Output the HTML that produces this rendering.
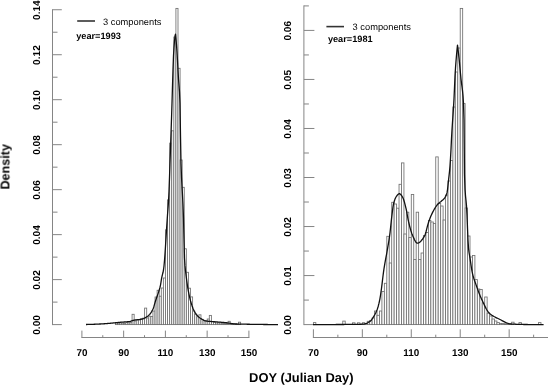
<!DOCTYPE html>
<html><head><meta charset="utf-8"><style>
html,body{margin:0;padding:0;background:#fff;overflow:hidden;width:548px;height:385px;}
svg{display:block;font-family:"Liberation Sans",sans-serif;}
text{text-rendering:geometricPrecision;}
</style></head><body>
<svg width="548" height="385" viewBox="0 0 548 385">
<rect width="548" height="385" fill="#fff"/>
<g fill="#fff" stroke="#707070" stroke-width="0.85">
<rect x="115.38" y="323.00" width="2.09" height="1.60"/>
<rect x="117.46" y="323.20" width="2.09" height="1.40"/>
<rect x="119.55" y="323.00" width="2.09" height="1.60"/>
<rect x="121.64" y="323.20" width="2.09" height="1.40"/>
<rect x="123.72" y="323.60" width="2.09" height="1.00"/>
<rect x="125.81" y="322.60" width="2.09" height="2.00"/>
<rect x="127.90" y="322.80" width="2.09" height="1.80"/>
<rect x="129.99" y="322.60" width="2.09" height="2.00"/>
<rect x="132.07" y="314.30" width="2.09" height="10.30"/>
<rect x="134.16" y="321.00" width="2.09" height="3.60"/>
<rect x="136.25" y="319.70" width="2.09" height="4.90"/>
<rect x="138.34" y="319.70" width="2.09" height="4.90"/>
<rect x="140.42" y="318.80" width="2.09" height="5.80"/>
<rect x="142.51" y="318.20" width="2.09" height="6.40"/>
<rect x="144.60" y="308.10" width="2.09" height="16.50"/>
<rect x="146.69" y="318.00" width="2.09" height="6.60"/>
<rect x="148.77" y="316.20" width="2.09" height="8.40"/>
<rect x="150.86" y="316.50" width="2.09" height="8.10"/>
<rect x="152.95" y="311.00" width="2.09" height="13.60"/>
<rect x="155.04" y="297.00" width="2.09" height="27.60"/>
<rect x="157.12" y="290.30" width="2.09" height="34.30"/>
<rect x="159.21" y="296.20" width="2.09" height="28.40"/>
<rect x="161.30" y="288.00" width="2.09" height="36.60"/>
<rect x="163.39" y="278.00" width="2.09" height="46.60"/>
<rect x="165.47" y="229.84" width="2.09" height="94.76"/>
<rect x="167.56" y="199.89" width="2.09" height="124.71"/>
<rect x="169.65" y="143.12" width="2.09" height="181.48"/>
<rect x="171.74" y="130.80" width="2.09" height="193.80"/>
<rect x="173.82" y="37.05" width="2.09" height="287.55"/>
<rect x="175.91" y="8.40" width="2.09" height="316.20"/>
<rect x="178.00" y="68.30" width="2.09" height="256.30"/>
<rect x="180.09" y="160.00" width="2.09" height="164.60"/>
<rect x="182.17" y="187.30" width="2.09" height="137.30"/>
<rect x="184.26" y="248.80" width="2.09" height="75.80"/>
<rect x="186.35" y="272.30" width="2.09" height="52.30"/>
<rect x="188.44" y="288.20" width="2.09" height="36.40"/>
<rect x="190.52" y="296.90" width="2.09" height="27.70"/>
<rect x="192.61" y="311.00" width="2.09" height="13.60"/>
<rect x="194.70" y="314.30" width="2.09" height="10.30"/>
<rect x="196.79" y="316.80" width="2.09" height="7.80"/>
<rect x="198.88" y="314.80" width="2.09" height="9.80"/>
<rect x="200.96" y="319.30" width="2.09" height="5.30"/>
<rect x="203.05" y="320.40" width="2.09" height="4.20"/>
<rect x="205.14" y="320.80" width="2.09" height="3.80"/>
<rect x="207.22" y="319.00" width="2.09" height="5.60"/>
<rect x="209.31" y="315.40" width="2.09" height="9.20"/>
<rect x="211.40" y="321.50" width="2.09" height="3.10"/>
<rect x="213.49" y="322.00" width="2.09" height="2.60"/>
<rect x="215.57" y="323.00" width="2.09" height="1.60"/>
<rect x="217.66" y="323.00" width="2.09" height="1.60"/>
<rect x="219.75" y="323.00" width="2.09" height="1.60"/>
<rect x="221.84" y="323.60" width="2.09" height="1.00"/>
<rect x="223.92" y="323.60" width="2.09" height="1.00"/>
<rect x="226.01" y="323.60" width="2.09" height="1.00"/>
<rect x="228.10" y="321.30" width="2.09" height="3.30"/>
<rect x="230.19" y="323.80" width="2.09" height="0.80"/>
<rect x="232.27" y="323.80" width="2.09" height="0.80"/>
<rect x="234.36" y="324.00" width="2.09" height="0.60"/>
<rect x="236.45" y="324.00" width="2.09" height="0.60"/>
<rect x="238.54" y="322.20" width="2.09" height="2.40"/>
<rect x="313.40" y="322.60" width="2.45" height="2.00"/>
<rect x="342.76" y="321.10" width="2.45" height="3.50"/>
<rect x="352.55" y="322.80" width="2.45" height="1.80"/>
<rect x="357.45" y="322.80" width="2.45" height="1.80"/>
<rect x="362.34" y="322.70" width="2.45" height="1.90"/>
<rect x="364.79" y="323.60" width="2.45" height="1.00"/>
<rect x="367.23" y="321.30" width="2.45" height="3.30"/>
<rect x="369.68" y="320.40" width="2.45" height="4.20"/>
<rect x="372.13" y="318.00" width="2.45" height="6.60"/>
<rect x="374.57" y="311.00" width="2.45" height="13.60"/>
<rect x="377.02" y="315.30" width="2.45" height="9.30"/>
<rect x="379.47" y="311.00" width="2.45" height="13.60"/>
<rect x="381.92" y="291.50" width="2.45" height="33.10"/>
<rect x="384.36" y="283.30" width="2.45" height="41.30"/>
<rect x="386.81" y="236.30" width="2.45" height="88.30"/>
<rect x="389.26" y="263.00" width="2.45" height="61.60"/>
<rect x="391.70" y="202.30" width="2.45" height="122.30"/>
<rect x="394.15" y="204.00" width="2.45" height="120.60"/>
<rect x="396.60" y="208.20" width="2.45" height="116.40"/>
<rect x="399.04" y="184.30" width="2.45" height="140.30"/>
<rect x="401.49" y="162.90" width="2.45" height="161.70"/>
<rect x="403.94" y="234.00" width="2.45" height="90.60"/>
<rect x="406.39" y="212.20" width="2.45" height="112.40"/>
<rect x="408.83" y="237.50" width="2.45" height="87.10"/>
<rect x="411.28" y="194.50" width="2.45" height="130.10"/>
<rect x="413.73" y="259.50" width="2.45" height="65.10"/>
<rect x="416.17" y="212.20" width="2.45" height="112.40"/>
<rect x="418.62" y="259.50" width="2.45" height="65.10"/>
<rect x="421.07" y="253.00" width="2.45" height="71.60"/>
<rect x="423.51" y="235.50" width="2.45" height="89.10"/>
<rect x="425.96" y="232.50" width="2.45" height="92.10"/>
<rect x="428.41" y="220.50" width="2.45" height="104.10"/>
<rect x="430.86" y="222.00" width="2.45" height="102.60"/>
<rect x="433.30" y="223.50" width="2.45" height="101.10"/>
<rect x="435.75" y="156.90" width="2.45" height="167.70"/>
<rect x="438.20" y="203.50" width="2.45" height="121.10"/>
<rect x="440.64" y="206.00" width="2.45" height="118.60"/>
<rect x="443.09" y="220.00" width="2.45" height="104.60"/>
<rect x="445.54" y="195.00" width="2.45" height="129.60"/>
<rect x="447.99" y="181.00" width="2.45" height="143.60"/>
<rect x="450.43" y="160.50" width="2.45" height="164.10"/>
<rect x="452.88" y="107.00" width="2.45" height="217.60"/>
<rect x="455.33" y="72.00" width="2.45" height="252.60"/>
<rect x="457.77" y="48.00" width="2.45" height="276.60"/>
<rect x="460.22" y="8.40" width="2.45" height="316.20"/>
<rect x="462.67" y="103.60" width="2.45" height="221.00"/>
<rect x="465.11" y="208.00" width="2.45" height="116.60"/>
<rect x="467.56" y="236.00" width="2.45" height="88.60"/>
<rect x="470.01" y="257.00" width="2.45" height="67.60"/>
<rect x="472.45" y="255.50" width="2.45" height="69.10"/>
<rect x="474.90" y="279.60" width="2.45" height="45.00"/>
<rect x="477.35" y="289.00" width="2.45" height="35.60"/>
<rect x="479.80" y="289.50" width="2.45" height="35.10"/>
<rect x="482.24" y="303.00" width="2.45" height="21.60"/>
<rect x="484.69" y="297.00" width="2.45" height="27.60"/>
<rect x="487.14" y="313.20" width="2.45" height="11.40"/>
<rect x="489.58" y="316.00" width="2.45" height="8.60"/>
<rect x="492.03" y="319.00" width="2.45" height="5.60"/>
<rect x="494.48" y="321.00" width="2.45" height="3.60"/>
<rect x="496.92" y="322.60" width="2.45" height="2.00"/>
<rect x="499.37" y="323.40" width="2.45" height="1.20"/>
<rect x="501.82" y="323.60" width="2.45" height="1.00"/>
<rect x="504.27" y="323.80" width="2.45" height="0.80"/>
<rect x="506.71" y="324.00" width="2.45" height="0.60"/>
<rect x="509.16" y="324.00" width="2.45" height="0.60"/>
<rect x="511.61" y="322.20" width="2.45" height="2.40"/>
<rect x="518.95" y="322.60" width="2.45" height="2.00"/>
<rect x="538.52" y="322.60" width="2.45" height="2.00"/>
</g>
<g stroke="#858585" stroke-width="1" fill="none">
<line x1="52.5" y1="9.24" x2="52.5" y2="325.10"/>
<line x1="52.5" y1="324.60" x2="61.8" y2="324.60"/>
<line x1="52.5" y1="279.62" x2="61.8" y2="279.62"/>
<line x1="52.5" y1="234.64" x2="61.8" y2="234.64"/>
<line x1="52.5" y1="189.66" x2="61.8" y2="189.66"/>
<line x1="52.5" y1="144.68" x2="61.8" y2="144.68"/>
<line x1="52.5" y1="99.70" x2="61.8" y2="99.70"/>
<line x1="52.5" y1="54.72" x2="61.8" y2="54.72"/>
<line x1="52.5" y1="9.74" x2="61.8" y2="9.74"/>
<line x1="52.5" y1="302.11" x2="57.5" y2="302.11"/>
<line x1="52.5" y1="257.13" x2="57.5" y2="257.13"/>
<line x1="52.5" y1="212.15" x2="57.5" y2="212.15"/>
<line x1="52.5" y1="167.17" x2="57.5" y2="167.17"/>
<line x1="52.5" y1="122.19" x2="57.5" y2="122.19"/>
<line x1="52.5" y1="77.21" x2="57.5" y2="77.21"/>
<line x1="52.5" y1="32.23" x2="57.5" y2="32.23"/>
<line x1="303.9" y1="5.41" x2="303.9" y2="325.10"/>
<line x1="303.9" y1="324.60" x2="314.4" y2="324.60"/>
<line x1="303.9" y1="275.57" x2="314.4" y2="275.57"/>
<line x1="303.9" y1="226.54" x2="314.4" y2="226.54"/>
<line x1="303.9" y1="177.51" x2="314.4" y2="177.51"/>
<line x1="303.9" y1="128.48" x2="314.4" y2="128.48"/>
<line x1="303.9" y1="79.45" x2="314.4" y2="79.45"/>
<line x1="303.9" y1="30.42" x2="314.4" y2="30.42"/>
<line x1="303.9" y1="300.09" x2="308.9" y2="300.09"/>
<line x1="303.9" y1="251.06" x2="308.9" y2="251.06"/>
<line x1="303.9" y1="202.03" x2="308.9" y2="202.03"/>
<line x1="303.9" y1="153.00" x2="308.9" y2="153.00"/>
<line x1="303.9" y1="103.97" x2="308.9" y2="103.97"/>
<line x1="303.9" y1="54.94" x2="308.9" y2="54.94"/>
<line x1="303.9" y1="5.91" x2="308.9" y2="5.91"/>
<line x1="81.40" y1="337.5" x2="249.40" y2="337.5"/>
<line x1="81.90" y1="337.5" x2="81.90" y2="330.6"/>
<line x1="123.65" y1="337.5" x2="123.65" y2="330.6"/>
<line x1="165.40" y1="337.5" x2="165.40" y2="330.6"/>
<line x1="207.15" y1="337.5" x2="207.15" y2="330.6"/>
<line x1="248.90" y1="337.5" x2="248.90" y2="330.6"/>
<line x1="102.78" y1="337.5" x2="102.78" y2="335.2"/>
<line x1="144.53" y1="337.5" x2="144.53" y2="335.2"/>
<line x1="186.28" y1="337.5" x2="186.28" y2="335.2"/>
<line x1="228.03" y1="337.5" x2="228.03" y2="335.2"/>
<line x1="312.90" y1="337.5" x2="548.81" y2="337.5"/>
<line x1="313.40" y1="337.5" x2="313.40" y2="329.3"/>
<line x1="362.34" y1="337.5" x2="362.34" y2="329.3"/>
<line x1="411.28" y1="337.5" x2="411.28" y2="329.3"/>
<line x1="460.22" y1="337.5" x2="460.22" y2="329.3"/>
<line x1="509.16" y1="337.5" x2="509.16" y2="329.3"/>
<line x1="337.87" y1="337.5" x2="337.87" y2="334.7"/>
<line x1="386.81" y1="337.5" x2="386.81" y2="334.7"/>
<line x1="435.75" y1="337.5" x2="435.75" y2="334.7"/>
<line x1="484.69" y1="337.5" x2="484.69" y2="334.7"/>
<line x1="533.63" y1="337.5" x2="533.63" y2="334.7"/>
</g>
<g fill="none" stroke="#111" stroke-width="1.3" stroke-linejoin="round">
<path d="M86.00,324.50 L86.50,324.49 L87.00,324.48 L87.50,324.47 L88.00,324.46 L88.50,324.45 L89.00,324.44 L89.50,324.42 L90.00,324.41 L90.50,324.39 L91.00,324.38 L91.50,324.36 L92.00,324.34 L92.50,324.33 L93.00,324.31 L93.50,324.29 L94.00,324.27 L94.50,324.25 L95.00,324.23 L95.50,324.21 L96.00,324.18 L96.50,324.16 L97.00,324.14 L97.50,324.12 L98.00,324.09 L98.50,324.07 L99.00,324.05 L99.50,324.02 L100.00,324.00 L100.50,323.98 L101.00,323.95 L101.50,323.92 L102.00,323.89 L102.50,323.86 L103.00,323.83 L103.50,323.80 L104.00,323.76 L104.50,323.73 L105.00,323.69 L105.50,323.66 L106.00,323.62 L106.50,323.58 L107.00,323.54 L107.50,323.50 L108.00,323.46 L108.50,323.42 L109.00,323.38 L109.50,323.34 L110.00,323.30 L110.50,323.26 L111.00,323.21 L111.50,323.17 L112.00,323.12 L112.50,323.07 L113.00,323.02 L113.50,322.97 L114.00,322.91 L114.50,322.86 L115.00,322.81 L115.50,322.75 L116.00,322.70 L116.50,322.65 L117.00,322.59 L117.50,322.54 L118.00,322.49 L118.50,322.44 L119.00,322.39 L119.50,322.34 L120.00,322.30 L120.50,322.26 L121.00,322.22 L121.50,322.18 L122.00,322.15 L122.50,322.12 L123.00,322.09 L123.50,322.05 L124.00,322.02 L124.50,321.99 L125.00,321.96 L125.50,321.93 L126.00,321.89 L126.50,321.85 L127.00,321.81 L127.50,321.76 L128.00,321.71 L128.50,321.66 L129.00,321.60 L129.50,321.52 L130.00,321.41 L130.50,321.28 L131.00,321.14 L131.50,320.98 L132.00,320.81 L132.50,320.65 L133.00,320.49 L133.50,320.34 L134.00,320.20 L134.50,320.09 L135.00,320.00 L135.50,319.93 L136.00,319.88 L136.50,319.83 L137.00,319.79 L137.50,319.75 L138.00,319.71 L138.50,319.67 L139.00,319.62 L139.50,319.57 L140.00,319.50 L140.50,319.42 L141.00,319.32 L141.50,319.21 L142.00,319.09 L142.50,318.95 L143.00,318.80 L143.50,318.63 L144.00,318.44 L144.50,318.20 L145.00,317.92 L145.50,317.61 L146.00,317.30 L146.50,316.98 L147.00,316.66 L147.50,316.31 L148.00,315.94 L148.50,315.54 L149.00,315.10 L149.50,314.60 L150.00,314.03 L150.50,313.38 L151.00,312.65 L151.50,311.84 L152.00,310.94 L152.50,309.97 L153.00,308.92 L153.50,307.69 L154.00,306.15 L154.50,304.44 L155.00,302.68 L155.50,301.01 L156.00,299.51 L156.50,298.08 L157.00,296.69 L157.50,295.29 L158.00,293.85 L158.50,292.34 L159.00,290.74 L159.50,289.09 L160.00,287.25 L160.50,285.03 L161.00,282.07 L161.50,278.94 L162.00,276.38 L162.50,274.44 L163.00,272.53 L163.50,270.00 L164.00,266.04 L164.50,260.53 L165.00,253.83 L165.50,246.28 L166.00,238.27 L166.50,230.14 L167.00,222.27 L167.50,215.00 L168.00,208.69 L168.50,201.70 L169.00,191.33 L169.50,177.51 L170.00,162.81 L170.50,148.73 L171.00,134.07 L171.50,118.97 L172.00,103.24 L172.50,86.00 L173.00,69.85 L173.50,55.83 L174.00,47.51 L174.50,40.82 L175.00,36.03 L175.50,34.20 L175.50,34.20 L176.00,39.05 L176.50,45.08 L177.00,52.00 L177.50,60.70 L178.00,70.58 L178.50,79.02 L179.00,85.11 L179.50,91.83 L180.00,103.41 L180.50,136.33 L181.00,163.32 L181.50,176.80 L182.00,186.71 L182.50,195.35 L183.00,205.01 L183.50,218.16 L184.00,239.33 L184.50,257.95 L185.00,265.64 L185.50,270.71 L186.00,274.72 L186.50,278.73 L187.00,282.58 L187.50,286.05 L188.00,289.10 L188.50,291.83 L189.00,294.37 L189.50,296.71 L190.00,298.83 L190.50,300.74 L191.00,302.48 L191.50,304.13 L192.00,305.67 L192.50,307.10 L193.00,308.41 L193.50,309.58 L194.00,310.60 L194.50,311.51 L195.00,312.37 L195.50,313.17 L196.00,313.91 L196.50,314.60 L197.00,315.23 L197.50,315.80 L198.00,316.32 L198.50,316.78 L199.00,317.20 L199.50,317.60 L200.00,317.96 L200.50,318.30 L201.00,318.62 L201.50,318.92 L202.00,319.22 L202.50,319.50 L203.00,319.78 L203.50,320.06 L204.00,320.36 L204.50,320.63 L205.00,320.80 L205.50,320.90 L206.00,320.98 L206.50,321.06 L207.00,321.13 L207.50,321.19 L208.00,321.25 L208.50,321.30 L209.00,321.34 L209.50,321.38 L210.00,321.42 L210.50,321.46 L211.00,321.49 L211.50,321.53 L212.00,321.56 L212.50,321.60 L213.00,321.64 L213.50,321.68 L214.00,321.73 L214.50,321.77 L215.00,321.81 L215.50,321.85 L216.00,321.89 L216.50,321.93 L217.00,321.97 L217.50,322.01 L218.00,322.04 L218.50,322.08 L219.00,322.11 L219.50,322.15 L220.00,322.19 L220.50,322.22 L221.00,322.26 L221.50,322.30 L222.00,322.34 L222.50,322.38 L223.00,322.42 L223.50,322.46 L224.00,322.51 L224.50,322.55 L225.00,322.60 L225.50,322.65 L226.00,322.71 L226.50,322.77 L227.00,322.84 L227.50,322.91 L228.00,322.99 L228.50,323.07 L229.00,323.15 L229.50,323.23 L230.00,323.30 L230.50,323.38 L231.00,323.46 L231.50,323.54 L232.00,323.61 L232.50,323.68 L233.00,323.74 L233.50,323.80 L234.00,323.86 L234.50,323.90 L235.00,323.94 L235.50,323.98 L236.00,324.00 L236.50,324.02 L237.00,324.03 L237.50,324.05 L238.00,324.06 L238.50,324.08 L239.00,324.09 L239.50,324.10 L240.00,324.11 L240.50,324.12 L241.00,324.13 L241.50,324.14 L242.00,324.15 L242.50,324.16 L243.00,324.17 L243.50,324.18 L244.00,324.18 L244.50,324.19 L245.00,324.20 L245.50,324.21 L246.00,324.22 L246.50,324.22 L247.00,324.23 L247.50,324.24 L248.00,324.25 L248.50,324.26 L249.00,324.27 L249.50,324.27 L250.00,324.28 L250.50,324.29 L251.00,324.30 L251.50,324.31 L252.00,324.31 L252.50,324.32 L253.00,324.33 L253.50,324.34 L254.00,324.34 L254.50,324.35 L255.00,324.36 L255.50,324.37 L256.00,324.37 L256.50,324.38 L257.00,324.39 L257.50,324.40 L258.00,324.40 L258.50,324.41 L259.00,324.42 L259.50,324.42 L260.00,324.43 L260.50,324.44 L261.00,324.44 L261.50,324.45 L262.00,324.46 L262.50,324.46 L263.00,324.47 L263.50,324.48 L264.00,324.48 L264.50,324.49 L265.00,324.49 L265.50,324.50 L266.00,324.51 L266.50,324.51 L267.00,324.52 L267.50,324.52 L268.00,324.53 L268.50,324.53 L269.00,324.54 L269.50,324.54 L270.00,324.55 L270.50,324.55 L271.00,324.55 L271.50,324.56 L272.00,324.56 L272.50,324.57 L273.00,324.57 L273.50,324.57 L274.00,324.58 L274.50,324.58 L275.00,324.58 L275.50,324.59 L276.00,324.59 L276.50,324.59 L277.00,324.60 L277.50,324.60 L278.00,324.60"/>
<path d="M313.00,324.60 L313.50,324.60 L314.00,324.60 L314.50,324.60 L315.00,324.60 L315.50,324.60 L316.00,324.60 L316.50,324.60 L317.00,324.60 L317.50,324.60 L318.00,324.60 L318.50,324.59 L319.00,324.59 L319.50,324.59 L320.00,324.59 L320.50,324.59 L321.00,324.59 L321.50,324.59 L322.00,324.59 L322.50,324.58 L323.00,324.58 L323.50,324.58 L324.00,324.58 L324.50,324.58 L325.00,324.58 L325.50,324.57 L326.00,324.57 L326.50,324.57 L327.00,324.57 L327.50,324.57 L328.00,324.56 L328.50,324.56 L329.00,324.56 L329.50,324.56 L330.00,324.55 L330.50,324.55 L331.00,324.55 L331.50,324.55 L332.00,324.54 L332.50,324.54 L333.00,324.54 L333.50,324.54 L334.00,324.53 L334.50,324.53 L335.00,324.53 L335.50,324.53 L336.00,324.52 L336.50,324.52 L337.00,324.52 L337.50,324.51 L338.00,324.51 L338.50,324.51 L339.00,324.51 L339.50,324.50 L340.00,324.50 L340.50,324.50 L341.00,324.49 L341.50,324.49 L342.00,324.49 L342.50,324.49 L343.00,324.48 L343.50,324.48 L344.00,324.48 L344.50,324.47 L345.00,324.47 L345.50,324.47 L346.00,324.46 L346.50,324.46 L347.00,324.46 L347.50,324.45 L348.00,324.45 L348.50,324.45 L349.00,324.44 L349.50,324.44 L350.00,324.43 L350.50,324.43 L351.00,324.42 L351.50,324.42 L352.00,324.41 L352.50,324.41 L353.00,324.40 L353.50,324.39 L354.00,324.39 L354.50,324.38 L355.00,324.37 L355.50,324.37 L356.00,324.36 L356.50,324.35 L357.00,324.34 L357.50,324.33 L358.00,324.32 L358.50,324.31 L359.00,324.30 L359.50,324.29 L360.00,324.28 L360.50,324.26 L361.00,324.25 L361.50,324.24 L362.00,324.22 L362.50,324.21 L363.00,324.19 L363.50,324.15 L364.00,324.07 L364.50,323.97 L365.00,323.84 L365.50,323.68 L366.00,323.50 L366.50,323.30 L367.00,323.08 L367.50,322.84 L368.00,322.58 L368.50,322.30 L369.00,322.01 L369.50,321.71 L370.00,321.40 L370.50,321.02 L371.00,320.51 L371.50,319.91 L372.00,319.22 L372.50,318.47 L373.00,317.67 L373.50,316.84 L374.00,316.00 L374.50,315.16 L375.00,314.29 L375.50,313.36 L376.00,312.35 L376.50,311.24 L377.00,310.00 L377.50,308.60 L378.00,307.00 L378.50,305.21 L379.00,303.21 L379.50,301.00 L380.00,298.37 L380.50,295.25 L381.00,291.88 L381.50,288.34 L382.00,284.38 L382.50,280.19 L383.00,276.02 L383.50,272.11 L384.00,268.69 L384.50,265.59 L385.00,262.70 L385.50,259.93 L386.00,257.24 L386.50,254.53 L387.00,251.74 L387.50,248.83 L388.00,245.97 L388.50,243.09 L389.00,240.05 L389.50,236.72 L390.00,232.82 L390.50,228.28 L391.00,223.50 L391.50,218.90 L392.00,214.79 L392.50,210.69 L393.00,206.91 L393.50,204.02 L394.00,202.12 L394.50,200.50 L395.00,199.11 L395.50,197.95 L396.00,197.01 L396.50,196.26 L397.00,195.58 L397.50,194.95 L398.00,194.40 L398.50,193.98 L399.00,193.74 L399.50,193.72 L400.00,193.92 L400.50,194.31 L401.00,194.85 L401.50,195.50 L402.00,196.23 L402.50,197.00 L403.00,197.94 L403.50,199.20 L404.00,200.71 L404.50,202.42 L405.00,204.31 L405.50,206.30 L406.00,208.37 L406.50,210.58 L407.00,213.31 L407.50,216.25 L408.00,219.08 L408.50,221.43 L409.00,223.52 L409.50,225.54 L410.00,227.48 L410.50,229.31 L411.00,231.03 L411.50,232.61 L412.00,234.05 L412.50,235.32 L413.00,236.43 L413.50,237.53 L414.00,238.62 L414.50,239.68 L415.00,240.65 L415.50,241.52 L416.00,242.24 L416.50,242.79 L417.00,243.11 L417.50,243.20 L418.00,243.13 L418.50,242.97 L419.00,242.73 L419.50,242.40 L420.00,242.00 L420.50,241.53 L421.00,241.00 L421.50,240.41 L422.00,239.77 L422.50,239.09 L423.00,238.36 L423.50,237.60 L424.00,236.81 L424.50,236.00 L425.00,234.95 L425.50,233.51 L426.00,231.78 L426.50,229.87 L427.00,227.89 L427.50,225.93 L428.00,224.10 L428.50,222.50 L429.00,221.07 L429.50,219.67 L430.00,218.32 L430.50,217.03 L431.00,215.81 L431.50,214.66 L432.00,213.60 L432.50,212.60 L433.00,211.63 L433.50,210.68 L434.00,209.77 L434.50,208.89 L435.00,208.05 L435.50,207.25 L436.00,206.50 L436.50,205.79 L437.00,205.13 L437.50,204.53 L438.00,203.98 L438.50,203.49 L439.00,203.04 L439.50,202.63 L440.00,202.23 L440.50,201.84 L441.00,201.43 L441.50,201.00 L442.00,200.57 L442.50,200.16 L443.00,199.74 L443.50,199.27 L444.00,198.72 L444.50,198.10 L445.00,197.42 L445.50,196.62 L446.00,195.65 L446.50,194.43 L447.00,192.90 L447.50,189.85 L448.00,185.20 L448.50,180.52 L449.00,176.19 L449.50,171.49 L450.00,165.85 L450.50,158.39 L451.00,149.17 L451.50,138.60 L452.00,129.85 L452.50,122.23 L453.00,114.99 L453.50,107.44 L454.00,98.87 L454.50,87.72 L455.00,76.16 L455.50,68.06 L456.00,61.29 L456.50,55.21 L457.00,49.76 L457.50,45.10 L457.50,45.10 L458.00,49.05 L458.50,53.31 L459.00,57.86 L459.50,62.83 L460.00,68.31 L460.50,73.84 L461.00,78.96 L461.50,83.05 L462.00,86.64 L462.50,90.61 L463.00,95.86 L463.50,103.69 L464.00,120.00 L464.50,174.22 L465.00,189.10 L465.50,195.92 L466.00,200.53 L466.50,205.93 L467.00,215.15 L467.50,227.96 L468.00,240.24 L468.50,247.83 L469.00,252.06 L469.50,255.26 L470.00,258.13 L470.50,261.35 L471.00,264.84 L471.50,268.23 L472.00,271.22 L472.50,273.56 L473.00,275.55 L473.50,277.34 L474.00,278.96 L474.50,280.46 L475.00,281.88 L475.50,283.26 L476.00,284.65 L476.50,286.07 L477.00,287.50 L477.50,288.90 L478.00,290.28 L478.50,291.63 L479.00,292.95 L479.50,294.23 L480.00,295.47 L480.50,296.67 L481.00,297.82 L481.50,298.92 L482.00,300.00 L482.50,301.09 L483.00,302.18 L483.50,303.27 L484.00,304.33 L484.50,305.38 L485.00,306.40 L485.50,307.38 L486.00,308.33 L486.50,309.23 L487.00,310.08 L487.50,310.86 L488.00,311.58 L488.50,312.23 L489.00,312.80 L489.50,313.29 L490.00,313.73 L490.50,314.15 L491.00,314.54 L491.50,314.91 L492.00,315.27 L492.50,315.60 L493.00,315.92 L493.50,316.22 L494.00,316.51 L494.50,316.78 L495.00,317.05 L495.50,317.31 L496.00,317.56 L496.50,317.80 L497.00,318.04 L497.50,318.28 L498.00,318.52 L498.50,318.76 L499.00,319.00 L499.50,319.25 L500.00,319.50 L500.50,319.76 L501.00,320.02 L501.50,320.29 L502.00,320.56 L502.50,320.82 L503.00,321.09 L503.50,321.35 L504.00,321.61 L504.50,321.86 L505.00,322.11 L505.50,322.35 L506.00,322.57 L506.50,322.79 L507.00,322.99 L507.50,323.18 L508.00,323.35 L508.50,323.51 L509.00,323.65 L509.50,323.77 L510.00,323.87 L510.50,323.94 L511.00,323.99 L511.50,324.03 L512.00,324.06 L512.50,324.09 L513.00,324.12 L513.50,324.15 L514.00,324.17 L514.50,324.20 L515.00,324.22 L515.50,324.25 L516.00,324.27 L516.50,324.29 L517.00,324.31 L517.50,324.33 L518.00,324.35 L518.50,324.37 L519.00,324.38 L519.50,324.40 L520.00,324.41 L520.50,324.42 L521.00,324.44 L521.50,324.45 L522.00,324.46 L522.50,324.47 L523.00,324.47 L523.50,324.48 L524.00,324.49 L524.50,324.49 L525.00,324.50 L525.50,324.50 L526.00,324.51 L526.50,324.51 L527.00,324.52 L527.50,324.52 L528.00,324.53 L528.50,324.53 L529.00,324.54 L529.50,324.54 L530.00,324.54 L530.50,324.55 L531.00,324.55 L531.50,324.55 L532.00,324.56 L532.50,324.56 L533.00,324.56 L533.50,324.57 L534.00,324.57 L534.50,324.57 L535.00,324.58 L535.50,324.58 L536.00,324.58 L536.50,324.58 L537.00,324.59 L537.50,324.59 L538.00,324.59 L538.50,324.59 L539.00,324.59 L539.50,324.59 L540.00,324.60 L540.50,324.60 L541.00,324.60 L541.50,324.60 L542.00,324.60 L542.50,324.60 L543.00,324.60 L543.50,324.60 L543.60,324.60"/>
<line x1="77.2" y1="21" x2="95" y2="21" stroke="#333" stroke-width="1.6"/>
<line x1="326.4" y1="26.6" x2="344" y2="26.6" stroke="#333" stroke-width="1.6"/>
</g>
<g font-size="10" font-weight="bold" fill="#000" opacity="0.999">
<text transform="translate(40.3,324.95) rotate(-90)" text-anchor="middle" font-size="10.1">0.00</text>
<text transform="translate(40.3,279.97) rotate(-90)" text-anchor="middle" font-size="10.1">0.02</text>
<text transform="translate(40.3,234.99) rotate(-90)" text-anchor="middle" font-size="10.1">0.04</text>
<text transform="translate(40.3,190.01) rotate(-90)" text-anchor="middle" font-size="10.1">0.06</text>
<text transform="translate(40.3,145.03) rotate(-90)" text-anchor="middle" font-size="10.1">0.08</text>
<text transform="translate(40.3,100.05) rotate(-90)" text-anchor="middle" font-size="10.1">0.10</text>
<text transform="translate(40.3,55.07) rotate(-90)" text-anchor="middle" font-size="10.1">0.12</text>
<text transform="translate(40.3,10.09) rotate(-90)" text-anchor="middle" font-size="10.1">0.14</text>
<text transform="translate(291.2,324.95) rotate(-90)" text-anchor="middle" font-size="10.1">0.00</text>
<text transform="translate(291.2,275.92) rotate(-90)" text-anchor="middle" font-size="10.1">0.01</text>
<text transform="translate(291.2,226.89) rotate(-90)" text-anchor="middle" font-size="10.1">0.02</text>
<text transform="translate(291.2,177.86) rotate(-90)" text-anchor="middle" font-size="10.1">0.03</text>
<text transform="translate(291.2,128.83) rotate(-90)" text-anchor="middle" font-size="10.1">0.04</text>
<text transform="translate(291.2,79.80) rotate(-90)" text-anchor="middle" font-size="10.1">0.05</text>
<text transform="translate(291.2,30.77) rotate(-90)" text-anchor="middle" font-size="10.1">0.06</text>
<text x="81.90" y="355.9" text-anchor="middle" font-size="9.9">70</text>
<text x="123.65" y="355.9" text-anchor="middle" font-size="9.9">90</text>
<text x="165.40" y="355.9" text-anchor="middle" font-size="9.9">110</text>
<text x="207.15" y="355.9" text-anchor="middle" font-size="9.9">130</text>
<text x="248.90" y="355.9" text-anchor="middle" font-size="9.9">150</text>
<text x="313.40" y="355.9" text-anchor="middle" font-size="9.9">70</text>
<text x="362.34" y="355.9" text-anchor="middle" font-size="9.9">90</text>
<text x="411.28" y="355.9" text-anchor="middle" font-size="9.9">110</text>
<text x="460.22" y="355.9" text-anchor="middle" font-size="9.9">130</text>
<text x="509.16" y="355.9" text-anchor="middle" font-size="9.9">150</text>
</g>
<g fill="#000" opacity="0.999">
<text x="103" y="24.5" font-size="9.3">3 components</text>
<text x="76.2" y="38.8" font-size="9.2" font-weight="bold">year=1993</text>
<text x="352.6" y="29.9" font-size="9.3">3 components</text>
<text x="327.9" y="41.9" font-size="9.2" font-weight="bold">year=1981</text>
<text transform="translate(9.4,166.7) rotate(-90)" text-anchor="middle" font-size="12.6" font-weight="bold">Density</text>
<text x="301.3" y="381.5" text-anchor="middle" font-size="12.9" font-weight="bold">DOY (Julian Day)</text>
</g>
</svg>
</body></html>
